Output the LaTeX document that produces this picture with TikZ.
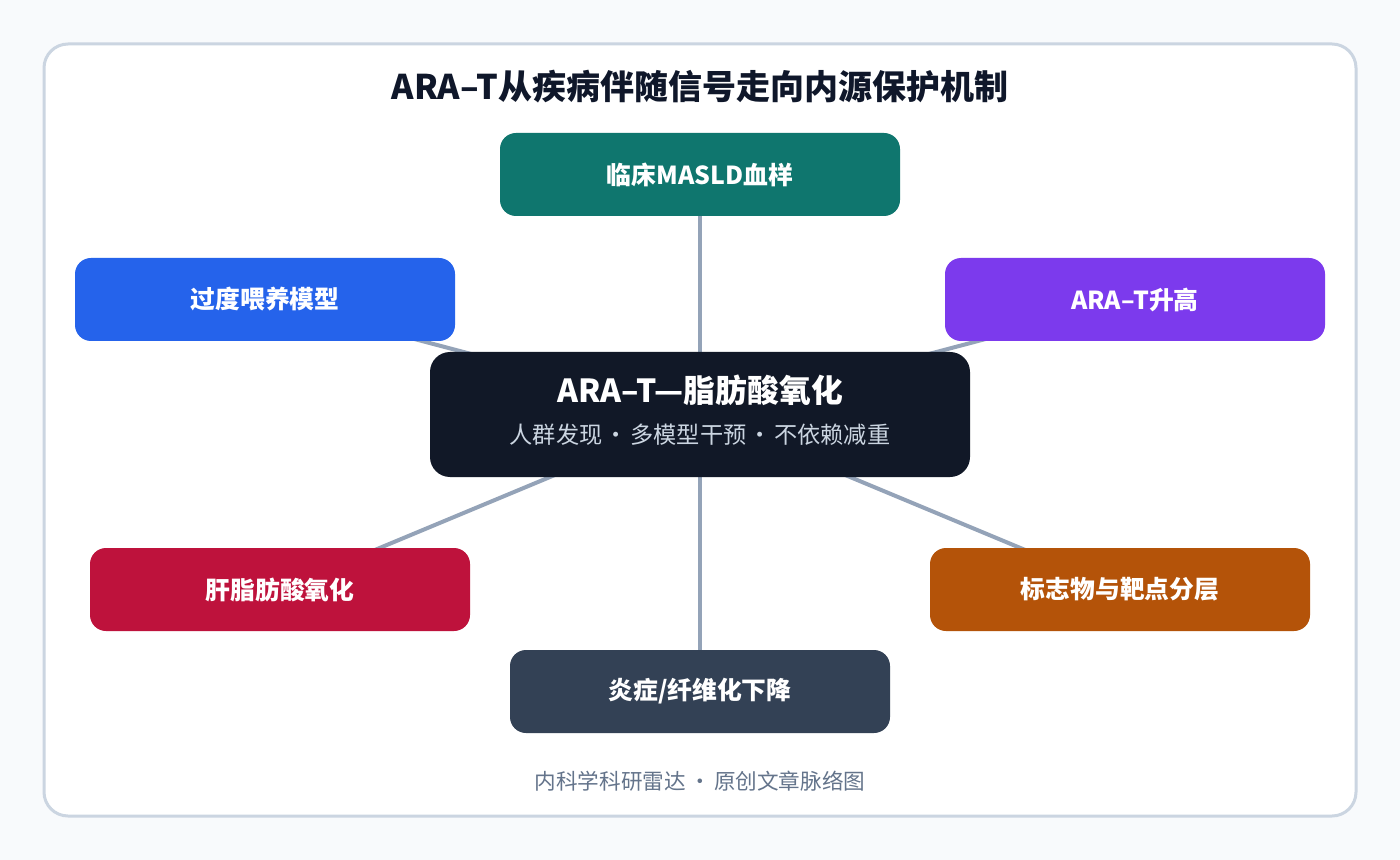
\documentclass[tikz,border=0pt]{standalone}
\usepackage{fontspec}
\setmainfont{Noto Sans CJK SC}
\usetikzlibrary{positioning}
\definecolor{pagebg}{HTML}{F8FAFC}
\definecolor{cardline}{HTML}{CBD5E1}
\definecolor{titleink}{HTML}{0F172A}
\definecolor{linkgray}{HTML}{94A3B8}
\definecolor{tealbox}{HTML}{0F766E}
\definecolor{bluebox}{HTML}{2563EB}
\definecolor{purplebox}{HTML}{7C3AED}
\definecolor{hubbox}{HTML}{111827}
\definecolor{redbox}{HTML}{BE123C}
\definecolor{orangebox}{HTML}{B45309}
\definecolor{slatebox}{HTML}{334155}
\definecolor{subink}{HTML}{CBD5E1}
\definecolor{footink}{HTML}{64748B}
\pgfdeclarelayer{back}
\pgfdeclarelayer{links}
\pgfsetlayers{back,links,main}

\begin{document}
\begin{tikzpicture}[x=0.5pt,y=-0.5pt,
  card/.style={draw=cardline,line width=1.5pt,fill=white,rounded corners=12pt},
  leaf/.style={rounded corners=8pt,minimum width=190pt,minimum height=41.5pt,inner sep=0pt,
    text=white,font=\bfseries\fontsize{12.4}{14}\selectfont},
  hub/.style={fill=hubbox,rounded corners=10pt,minimum width=270pt,minimum height=62.5pt,inner sep=0pt},
  link/.style={draw=linkgray,line width=2pt}]
  \useasboundingbox (0,0) rectangle (1400,860);
  \begin{pgfonlayer}{back}
    \fill[pagebg] (0,0) rectangle (1400,860);
    \draw[card] (44,44) rectangle (1356,816);
  \end{pgfonlayer}

  % heading
  \node[text=titleink,font=\bfseries\fontsize{17}{19}\selectfont] (heading) at (700,87) {ARA–T从疾病伴随信号走向内源保护机制};

  % hub in the middle
  \node[hub] (hub) at (700,414.5) {};
  \node[text=white,font=\bfseries\fontsize{15.9}{18}\selectfont] (hubtitle) at (700,390) {ARA–T—脂肪酸氧化};
  \node[text=subink,font=\fontsize{11.6}{13}\selectfont] (hubsub) at (700,435)
    {人群发现\hspace{0.1em}·\hspace{0.1em}多模型干预\hspace{0.1em}·\hspace{0.1em}不依赖减重};

  % leaves
  \node[leaf,fill=tealbox,minimum width=200pt] (blood) at (700,174.5) {临床MASLD血样};
  \node[leaf,fill=bluebox] (overfeed) at (265,299.5) {过度喂养模型};
  \node[leaf,fill=purplebox] (rise) at (1135,299.5) {ARA–T升高};
  \node[leaf,fill=redbox] (oxid) at (280,589.5) {肝脂肪酸氧化};
  \node[leaf,fill=orangebox] (strata) at (1120,589.5) {标志物与靶点分层};
  \node[leaf,fill=slatebox] (fibro) at (700,691.5) {炎症/纤维化下降};

  \begin{pgfonlayer}{links}
    \draw[link] (hub.center) -- (blood.center);
    \draw[link] (hub.center) -- (overfeed.center);
    \draw[link] (hub.center) -- (rise.center);
    \draw[link] (hub.center) -- (oxid.center);
    \draw[link] (hub.center) -- (strata.center);
    \draw[link] (hub.center) -- (fibro.center);
  \end{pgfonlayer}

  % footer
  \node[text=footink,font=\fontsize{10.8}{12}\selectfont] (footer) at (700,781)
    {内科学科研雷达\hspace{0.15em}·\hspace{0.15em}原创文章脉络图};
\end{tikzpicture}
\end{document}
